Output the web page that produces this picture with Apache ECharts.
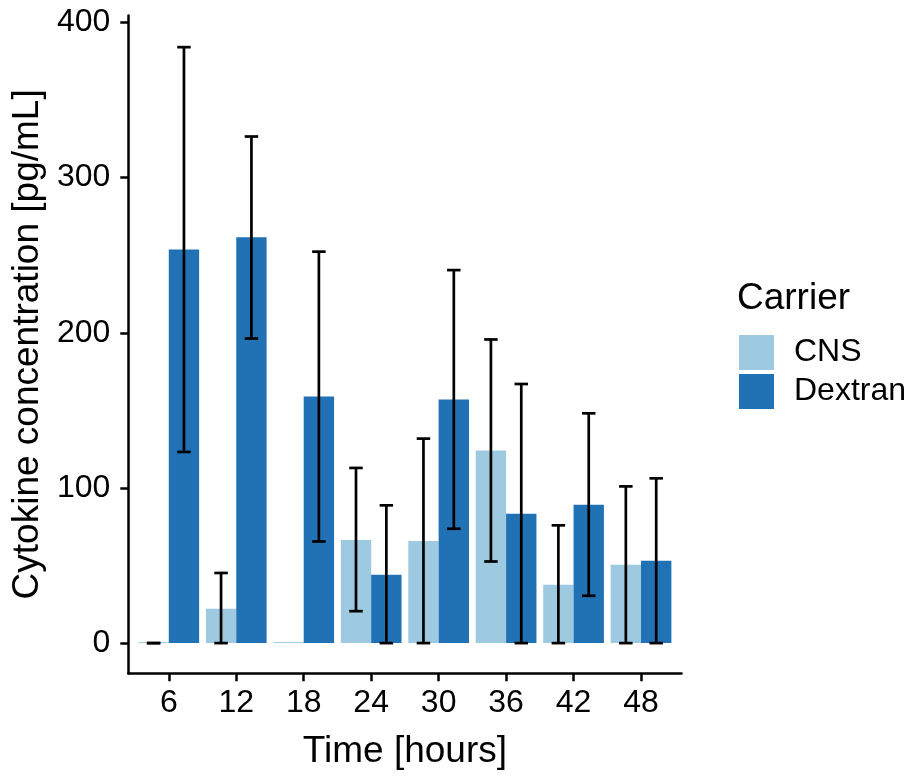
<!DOCTYPE html>
<html>
<head>
<meta charset="utf-8">
<script src="https://cdn.jsdelivr.net/npm/echarts@6/dist/echarts.min.js"></script>
<style>
html,body{margin:0;padding:0;background:#fff;}
#chart{width:906px;height:776px;}
</style>
</head>
<body>
<div id="chart"></div>
<script>
// ---- data ----
const hours = [6, 12, 18, 24, 30, 36, 42, 48];
const cnsMean = [0, 22.1, 0, 66.5, 65.8, 124.1, 37.6, 50.5];
const cnsLow  = [0, 0, null, 20.6, 0, 52.6, 0, 0];
const cnsHigh = [0, 45.2, null, 112.9, 131.8, 195.7, 75.9, 101.0];
const dexMean = [253.7, 261.5, 158.9, 44.1, 157.0, 83.4, 89.2, 53.1];
const dexLow  = [123.2, 196.3, 65.5, 0, 73.7, 0, 30.5, 0];
const dexHigh = [384.1, 326.5, 252.3, 88.8, 240.4, 167.0, 148.1, 106.2];
const yTicks = [0, 100, 200, 300, 400];
const seriesNames = ['CNS', 'Dextran'];
const colors = ['#9ECAE1', '#2171B5'];

// ---- layout constants ----
const FONT = '"Liberation Sans", Arial, Helvetica, sans-serif';
const BAR_W = 0.45;   // width of each bar in category units
const CAP_W = 0.2;    // error bar cap width in category units

const xIdx = hours.map((h, i) => i + 1);

function barData(vals) { return vals.map((v, i) => [xIdx[i], v]); }
function errData(lo, hi) {
  const out = [];
  lo.forEach((l, i) => { if (l !== null && hi[i] !== null) out.push([xIdx[i], l, hi[i]]); });
  return out;
}

function barRender(offset, color) {
  return function (params, api) {
    const x = api.value(0) + offset;
    const v = api.value(1);
    const p0 = api.coord([x - BAR_W / 2, 0]);
    const p1 = api.coord([x + BAR_W / 2, v]);
    const h = Math.max(p0[1] - p1[1], 1);
    return {
      type: 'rect',
      shape: { x: p0[0], y: p0[1] - h, width: p1[0] - p0[0], height: h },
      style: { fill: color }
    };
  };
}

function errRender(offset) {
  return function (params, api) {
    const x = api.value(0) + offset;
    const pLo = api.coord([x, api.value(1)]);
    const pHi = api.coord([x, api.value(2)]);
    const hw = api.size([CAP_W / 2, 0])[0];
    const st = { stroke: '#000', lineWidth: 2.7, fill: null };
    return {
      type: 'group',
      children: [
        { type: 'line', shape: { x1: pLo[0], y1: pLo[1], x2: pHi[0], y2: pHi[1] }, style: st },
        { type: 'line', shape: { x1: pHi[0] - hw, y1: pHi[1], x2: pHi[0] + hw, y2: pHi[1] }, style: st },
        { type: 'line', shape: { x1: pLo[0] - hw, y1: pLo[1], x2: pLo[0] + hw, y2: pLo[1] }, style: st }
      ]
    };
  };
}

const chart = echarts.init(document.getElementById('chart'), null, { renderer: 'canvas' });

const option = {
  backgroundColor: '#fff',
  animation: false,
  textStyle: { fontFamily: FONT },
  title: {
    text: 'Carrier',
    left: 737, top: 280, padding: 0,
    textStyle: { fontFamily: FONT, fontSize: 37, fontWeight: 'normal', color: '#000' }
  },
  legend: {
    orient: 'vertical',
    left: 739, top: 335, padding: 0,
    itemWidth: 35, itemHeight: 35, itemGap: 4,
    icon: 'rect',
    data: seriesNames,
    textStyle: { fontFamily: FONT, fontSize: 32, color: '#000', padding: [0, 0, 0, 15] }
  },
  grid: { left: 128.3, right: 224.5, top: 15.5, bottom: 102.8, containLabel: false },
  xAxis: {
    type: 'value',
    min: 0.4, max: 8.6,
    name: 'Time [hours]',
    nameLocation: 'middle',
    nameGap: 60,
    nameTextStyle: { fontFamily: FONT, fontSize: 37, color: '#000' },
    axisLine: { show: true, onZero: false, lineStyle: { color: '#000', width: 2.5 } },
    axisTick: { show: true, length: 8, customValues: xIdx, lineStyle: { color: '#000', width: 2.5 } },
    axisLabel: {
      customValues: xIdx, margin: 14,
      fontFamily: FONT, fontSize: 32, color: '#000',
      formatter: v => String(hours[Math.round(v) - 1])
    },
    splitLine: { show: false }
  },
  yAxis: {
    type: 'value',
    min: -19.4, max: 404.5,
    name: 'Cytokine concentration [pg/mL]',
    nameLocation: 'middle',
    nameGap: 80,
    nameTextStyle: { fontFamily: FONT, fontSize: 37, color: '#000' },
    axisLine: { show: true, onZero: false, lineStyle: { color: '#000', width: 2.5 } },
    axisTick: { show: true, length: 8, customValues: yTicks, lineStyle: { color: '#000', width: 2.5 } },
    axisLabel: {
      customValues: yTicks, margin: 18,
      fontFamily: FONT, fontSize: 32, color: '#000'
    },
    splitLine: { show: false }
  },
  series: [
    {
      name: 'CNS', type: 'custom', renderItem: barRender(-BAR_W / 2, colors[0]),
      itemStyle: { color: colors[0] },
      encode: { x: 0, y: 1 }, data: barData(cnsMean), z: 2
    },
    {
      name: 'Dextran', type: 'custom', renderItem: barRender(BAR_W / 2, colors[1]),
      itemStyle: { color: colors[1] },
      encode: { x: 0, y: 1 }, data: barData(dexMean), z: 2
    },
    {
      name: 'CNS error', type: 'custom', renderItem: errRender(-BAR_W / 2),
      encode: { x: 0, y: [1, 2] }, data: errData(cnsLow, cnsHigh), z: 3
    },
    {
      name: 'Dextran error', type: 'custom', renderItem: errRender(BAR_W / 2),
      encode: { x: 0, y: [1, 2] }, data: errData(dexLow, dexHigh), z: 3
    }
  ]
};

chart.setOption(option);
</script>
</body>
</html>
